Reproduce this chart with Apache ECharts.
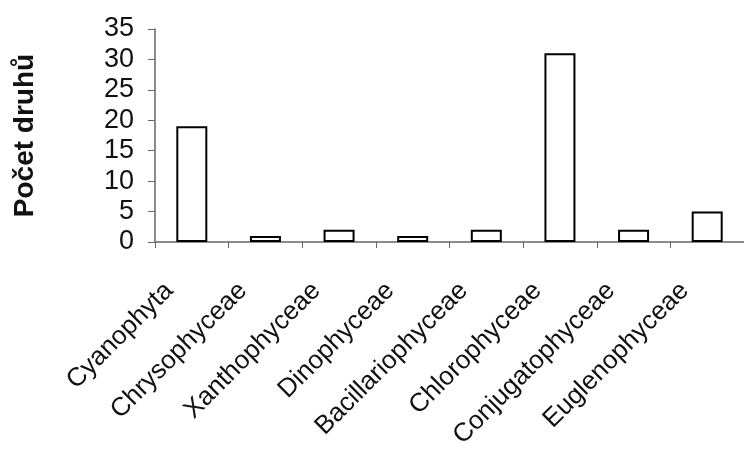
<!DOCTYPE html>
<html>
<head>
<meta charset="utf-8">
<script src="https://cdn.jsdelivr.net/npm/echarts@6/dist/echarts.min.js"></script>
<style>
html,body{margin:0;padding:0;background:#fff;}
#chart{width:744px;height:454px;}
</style>
</head>
<body>
<div id="chart"></div>
<script>
var categories = ['Cyanophyta','Chrysophyceae','Xanthophyceae','Dinophyceae','Bacillariophyceae','Chlorophyceae','Conjugatophyceae','Euglenophyceae'];
var values = [19, 1, 2, 1, 2, 31, 2, 5];
var yAxisName = 'Počet druhů';

var chart = echarts.init(document.getElementById('chart'), null, {renderer:'canvas'});
chart.setOption({
  animation: false,
  backgroundColor: '#fff',
  grid: {left: 155, top: 29, width: 600, bottom: 212, containLabel: false},
  xAxis: {
    type: 'category',
    data: categories,
    axisLine: {lineStyle: {color: '#666', width: 1.5}},
    axisTick: {show: true, length: 6, lineStyle: {color: '#666'}},
    axisLabel: {
      interval: 0,
      rotate: 45,
      margin: 22,
      padding: [0, 32, 0, 0],
      fontFamily: 'Liberation Sans, Arial, sans-serif',
      fontSize: 26,
      color: '#111'
    }
  },
  yAxis: {
    type: 'value',
    min: 0,
    max: 35,
    interval: 5,
    name: yAxisName,
    nameLocation: 'middle',
    nameGap: 116,
    nameRotate: 90,
    nameTextStyle: {fontFamily: 'Liberation Sans, Arial, sans-serif', fontSize: 28, fontWeight: 'bold', color: '#111'},
    axisLine: {show: true, lineStyle: {color: '#666', width: 1.5}},
    axisTick: {show: true, inside: false, length: 7, lineStyle: {color: '#666'}},
    splitLine: {show: false},
    axisLabel: {
      margin: 21,
      fontFamily: 'Liberation Sans, Arial, sans-serif',
      fontSize: 27,
      color: '#111'
    }
  },
  series: [{
    type: 'bar',
    data: values,
    barWidth: 31,
    itemStyle: {color: '#fff', borderColor: '#000', borderWidth: 2}
  }]
});
</script>
</body>
</html>
